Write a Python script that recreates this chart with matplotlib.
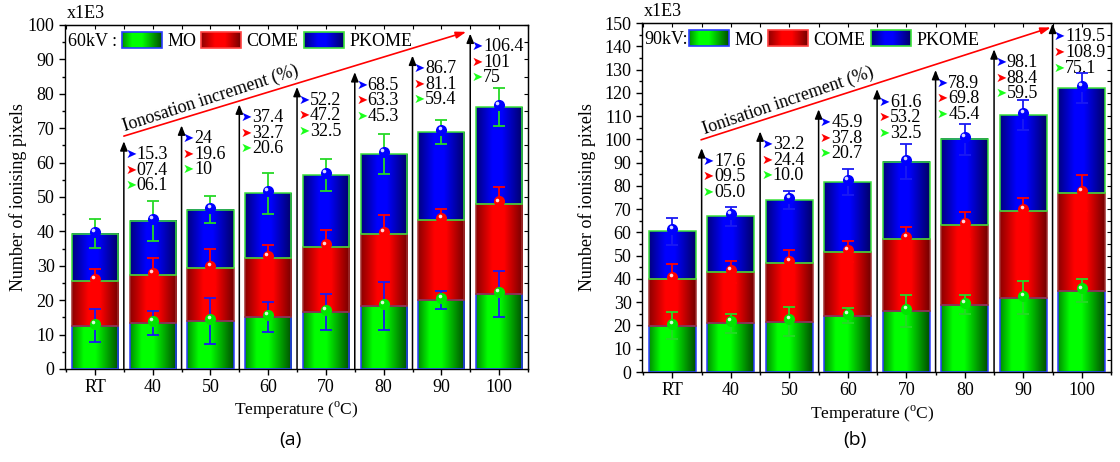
import numpy as np
import matplotlib.pyplot as plt
from matplotlib.colors import LinearSegmentedColormap
from matplotlib.patches import Patch, Rectangle
from matplotlib.legend_handler import HandlerBase
from matplotlib.ticker import MultipleLocator
import matplotlib.transforms as mtransforms

plt.rcParams['font.family'] = ['Liberation Serif', 'DejaVu Sans']
plt.rcParams['mathtext.fontset'] = 'custom'
plt.rcParams['mathtext.rm'] = 'Liberation Serif'

temps = ['RT', '40', '50', '60', '70', '80', '90', '100']
series = ['MO', 'COME', 'PKOME']

# 60 kV (x1E3), stacked contributions
mo_60 = [12.6, 13.4, 13.9, 15.1, 16.5, 18.3, 20.0, 21.9]
come_60 = [12.9, 13.8, 15.4, 17.2, 19.1, 20.9, 23.4, 26.2]
pkome_60 = [13.8, 15.8, 17.0, 18.8, 20.8, 23.2, 25.5, 28.0]
mo_err_60 = [4.8, 3.6, 6.6, 4.4, 5.3, 6.9, 2.6, 6.7]
come_err_60 = [3.6, 5.0, 5.6, 3.8, 4.7, 5.7, 3.1, 4.9]
pkome_err_60 = [4.2, 5.8, 4.0, 5.9, 4.6, 5.8, 3.4, 5.5]
inc_pkome_60 = ['15.3', '24', '37.4', '52.2', '68.5', '86.7', '106.4']
inc_come_60 = ['07.4', '19.6', '32.7', '47.2', '63.3', '81.1', '101']
inc_mo_60 = ['06.1', '10', '20.6', '32.5', '45.3', '59.4', '75']
arrow_top_60 = [66.2, 70.8, 76.9, 82.0, 86.3, 91.1, 97.5]

# 90 kV (x1E3)
mo_90 = [19.8, 20.9, 21.7, 24.1, 26.1, 28.9, 31.9, 35.0]
come_90 = [20.2, 22.1, 25.3, 27.6, 30.9, 34.1, 37.4, 42.0]
pkome_90 = [20.5, 24.0, 27.0, 30.0, 33.3, 37.0, 41.1, 45.1]
mo_err_90 = [5.8, 4.0, 6.4, 3.2, 6.9, 4.0, 7.0, 5.0]
come_err_90 = [6.3, 4.6, 5.3, 4.6, 5.3, 5.7, 5.4, 7.8]
pkome_err_90 = [5.8, 4.1, 4.0, 5.5, 7.5, 6.7, 6.6, 6.6]
inc_pkome_90 = ['17.6', '32.2', '45.9', '61.6', '78.9', '98.1', '119.5']
inc_come_90 = ['09.5', '24.4', '37.8', '53.2', '69.8', '88.4', '108.9']
inc_mo_90 = ['05.0', '10.0', '20.7', '32.5', '45.4', '59.5', '75.1']
arrow_top_90 = [96.2, 103.4, 112.9, 121.6, 129.8, 138.7, 149.7]

GREEN = (0, 0.95, 0)
RED = (1, 0, 0)
BLUE = (0, 0, 1)

cmaps = [
    LinearSegmentedColormap.from_list('g', [(0, (0, .55, 0)), (0.25, (0, 1, 0)), (0.5, (0, 1, 0)), (1, (0, .3, 0))]),
    LinearSegmentedColormap.from_list('r', [(0, (.55, 0, 0)), (0.35, (1, 0, 0)), (0.6, (1, 0, 0)), (1, (.45, 0, 0))]),
    LinearSegmentedColormap.from_list('b', [(0, (0, 0, .5)), (0.35, (0, 0, 1)), (0.55, (0, 0, 1)), (1, (0, 0, .4))]),
]
edges = ['#2a3cff', '#a03030', '#3ae03a']
legend_edges = ['#2a3cff', '#ff4040', '#3ae03a']
sphere_cols = [(0, 0.9, 0), RED, BLUE]


class GradientHandler(HandlerBase):
    # legend box drawn as thin stripes following the bar gradient
    def __init__(self, cmap, edge):
        super().__init__()
        self.cmap = cmap
        self.edge = edge

    def create_artists(self, legend, orig_handle, xdescent, ydescent, width, height, fontsize, trans):
        arts = []
        n = 40
        for j in range(n):
            r = Rectangle((-xdescent + width * j / n, -ydescent), width / n * 1.05, height,
                          facecolor=self.cmap((j + 0.5) / n), edgecolor='none', transform=trans)
            arts.append(r)
        arts.append(Rectangle((-xdescent, -ydescent), width, height, facecolor='none',
                              edgecolor=self.edge, linewidth=1.2, transform=trans))
        return arts


def gradient_bars(ax, x, heights, bottoms, cmap, edge):
    bars = ax.bar(x, heights, 0.8, bottom=bottoms, facecolor='none', edgecolor=edge, linewidth=1.1, zorder=3)
    grad = np.linspace(0, 1, 256).reshape(1, -1)
    for b in bars:
        x0, y0 = b.get_x(), b.get_y()
        ax.imshow(grad, extent=(x0, x0 + b.get_width(), y0, y0 + b.get_height()),
                  cmap=cmap, aspect='auto', zorder=2, interpolation='bilinear')


def draw_panel(ax, vals, errs, incs, tops, kv, ymax, err_cols, word, label_x):
    x = np.arange(len(temps))
    bottom = np.zeros(len(temps))
    offs = mtransforms.offset_copy(ax.transData, fig=ax.figure, x=0, y=1.5, units='points')
    hl = mtransforms.offset_copy(ax.transData, fig=ax.figure, x=-1.3, y=2.9, units='points')
    for k in range(3):
        v = np.array(vals[k])
        gradient_bars(ax, x, v, bottom, cmaps[k], edges[k])
        top = bottom + v
        ax.errorbar(x, top, yerr=errs[k], fmt='none', ecolor=err_cols[k], elinewidth=1.3,
                    capsize=4, capthick=1.3, zorder=5)
        ax.plot(x, top, 'o', color=sphere_cols[k], ms=8, mec='none', zorder=6, transform=offs)
        ax.plot(x, top, 'o', color='white', ms=2.6, mec='none', zorder=7, transform=hl, alpha=0.85)
        bottom = top

    ax.set_xlim(-0.52, 7.5)
    ax.set_ylim(0, ymax)

    # increment arrows
    for i, t in enumerate(tops):
        xa = i + 0.5
        ax.annotate('', xy=(xa, t), xytext=(xa, 0),
                    arrowprops=dict(arrowstyle='-|>,head_length=0.55,head_width=0.22', color='black',
                                    lw=1.1, shrinkA=0, shrinkB=0), zorder=4, annotation_clip=False)
        for k, (lab, col) in enumerate(zip([incs[2][i], incs[1][i], incs[0][i]], [BLUE, RED, (0.1, 1, 0.1)])):
            dy = -9.5 - 11.2 * k
            ax.annotate('➤', xy=(xa, t), xytext=(1.0, dy), textcoords='offset points', color=col,
                        fontsize=9.5, family='DejaVu Sans', va='center', ha='left', annotation_clip=False)
            ax.annotate(lab, xy=(xa, t), xytext=(9.2, dy), textcoords='offset points',
                        fontsize=13, va='center', ha='left', annotation_clip=False)

    # red trend arrow
    (x0, y0), (x1, y1), (tx, ty) = word
    ax.annotate('', xy=(x1, y1), xytext=(x0, y0),
                arrowprops=dict(arrowstyle='-|>,head_length=0.6,head_width=0.2', color='red', lw=1.2,
                                shrinkA=0, shrinkB=0), zorder=4)
    p0 = ax.transData.transform((x0, y0))
    p1 = ax.transData.transform((x1, y1))
    ang = np.degrees(np.arctan2(p1[1] - p0[1], p1[0] - p0[0])) + 1.0
    ax.text(tx, ty, label_x, rotation=ang, rotation_mode='anchor', ha='center', va='center', fontsize=13)

    ax.text(0.006, 0.953, kv, transform=ax.transAxes, fontsize=13, va='center', ha='left')

    # ticks
    ax.set_xticks(x)
    ax.set_xticklabels(temps)
    ax.xaxis.set_minor_locator(MultipleLocator(0.5))
    ax.yaxis.set_major_locator(MultipleLocator(10))
    ax.yaxis.set_minor_locator(MultipleLocator(5))
    ax.tick_params(which='major', direction='out', length=4, width=1, labelsize=13)
    ax.tick_params(which='minor', direction='out', length=2.5, width=1)
    sy = ax.secondary_yaxis('right')
    sy.yaxis.set_major_locator(MultipleLocator(5))
    sy.tick_params(direction='in', length=3, labelright=False)
    sx = ax.secondary_xaxis('top')
    sx.xaxis.set_major_locator(MultipleLocator(0.5))
    sx.tick_params(direction='in', length=3, labeltop=False)
    for s in ax.spines.values():
        s.set_linewidth(1.0)
    ax.text(0.003, 1.008, 'x1E3', transform=ax.transAxes, fontsize=13, va='bottom', ha='left')
    ax.set_ylabel('Number of ionising pixels', fontsize=13)
    ax.set_xlabel('Temperature ($^{\\mathrm{o}}$C)', fontsize=12.5)

    handles = [Patch(label=s) for s in series]
    hmap = {h: GradientHandler(cmaps[k], legend_edges[k]) for k, h in enumerate(handles)}
    return handles, hmap


fig = plt.figure(figsize=(11.2, 4.62), dpi=100)
ax1 = fig.add_axes([0.058, 0.2013, 0.4134, 0.7446])
ax2 = fig.add_axes([0.5732, 0.1948, 0.4188, 0.7554])

h1, m1 = draw_panel(ax1, [mo_60, come_60, pkome_60], [mo_err_60, come_err_60, pkome_err_60],
                    [inc_mo_60, inc_come_60, inc_pkome_60], arrow_top_60, '60kV :', 100,
                    [(0.1, 0.1, 0.95), RED, (0.15, 0.85, 0.15)],
                    ((0.5, 67.7), (6.43, 98.0), (2.0, 78.6)), 'Ionosation increment (%)')
h2, m2 = draw_panel(ax2, [mo_90, come_90, pkome_90], [mo_err_90, come_err_90, pkome_err_90],
                    [inc_mo_90, inc_come_90, inc_pkome_90], arrow_top_90, '90kV:', 150,
                    [(0.15, 0.85, 0.15), RED, (0.1, 0.1, 0.95)],
                    ((0.49, 99.8), (6.47, 148.1), (1.98, 116.5)), 'Ionisation increment (%)')

ax1.legend(h1, series, handler_map=m1, loc='center left', bbox_to_anchor=(0.123, 0.953), ncol=3,
           frameon=False, fontsize=13, handlelength=2.2, handleheight=1.0, handletextpad=0.3,
           columnspacing=0.3, borderpad=0, borderaxespad=0)
ax2.legend(h2, series, handler_map=m2, loc='center left', bbox_to_anchor=(0.10, 0.953), ncol=3,
           frameon=False, fontsize=13, handlelength=2.2, handleheight=1.0, handletextpad=0.3,
           columnspacing=0.3, borderpad=0, borderaxespad=0)

ax1.yaxis.set_label_coords(-0.082, 0.5)
ax2.yaxis.set_label_coords(-0.098, 0.5)
ax1.xaxis.set_label_coords(0.5, -0.09)
ax2.xaxis.set_label_coords(0.49, -0.09)

fig.text(0.259, 0.048, '(a)', fontsize=14, family='Open Sans', ha='center', va='center')
fig.text(0.763, 0.048, '(b)', fontsize=14, family='Open Sans', ha='center', va='center')

fig.savefig('out.png', dpi=100)
